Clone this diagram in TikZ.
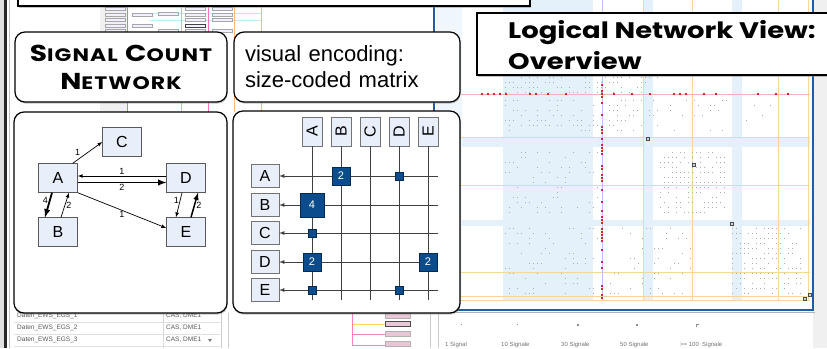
\documentclass[tikz,border=0pt]{standalone}
\usepackage{fontspec}
\usepackage{graphicx}
\setmainfont{Liberation Sans}
\newfontfamily\titlefont{Poppins}
\usetikzlibrary{positioning,shadows}

\definecolor{boxfill}{HTML}{E8EEFA}
\definecolor{cellfill}{HTML}{0B4C8C}
\definecolor{celldraw}{HTML}{05294F}
\definecolor{selblue}{HTML}{1F5DA8}
\definecolor{bandblue}{HTML}{E4F0FA}
\definecolor{gridorange}{HTML}{F6D69A}
\definecolor{gridred}{HTML}{D9252E}
\definecolor{dotgray}{HTML}{A3AEB9}
\definecolor{pinkbox}{HTML}{E9C6D6}

\newcommand{\fsize}[1]{\fontsize{#1}{#1}\selectfont}
\newcommand{\smallcapword}[2]{{\fsize{23}#1}{\fsize{18}#2}}
\newcommand{\widetitle}[1]{\scalebox{1.22}[1]{#1}}

\begin{document}
\begin{tikzpicture}[x=1pt,y=-1pt,>=latex,
  panel/.style={draw,line width=1.2pt,fill=white,rounded corners=10pt,
    drop shadow={shadow xshift=0.6pt,shadow yshift=-1.6pt,opacity=0.45}},
  flatbox/.style={draw,line width=1.2pt,fill=white,
    drop shadow={shadow xshift=1pt,shadow yshift=-1.6pt,opacity=0.45}},
  gnode/.style={draw=black!65,fill=boxfill,minimum width=39pt,minimum height=29pt,inner sep=0pt,font=\fsize{16}},
  elabel/.style={font=\fsize{9},inner sep=1pt},
  head/.style={draw=black!55,fill=boxfill,inner sep=0pt,font=\fsize{16}},
  cell/.style={draw=celldraw,fill=cellfill,text=white,inner sep=0pt,font=\fsize{11}},
  fine/.style={font=\fsize{6.5},text=black!65,inner sep=0pt,anchor=west}]
\clip (0,0) rectangle (827,348);

% screenshot in the background
\fill[white] (0,0) rectangle (827,348);
\fill[black!12] (0,0) rectangle (4,348);
\fill[black!85] (4,0) rectangle (7,348);
\draw[black!25] (9.5,0) -- (9.5,348);

% network editor strip
\fill[black!6] (100,0) rectangle (128,112);
\draw[cyan!25] (150,13) -- (261,13);
\draw[cyan!25] (150,20) -- (261,20);
\draw[blue!45] (127,0) -- (127,112);
\draw[green!60] (181,0) -- (181,112);
\draw[magenta!55] (208,0) -- (208,112);
\draw[orange!55] (234,0) -- (234,112);
\draw[cyan!45] (261,0) -- (261,112);
\foreach \xx/\yy in {105/7,105/13,105/18,105/24,105/29,132/13,132/24,158/12,158/29,
  185/7,185/13,185/18,185/29,212/7,212/13,212/18,212/29}
  \draw[black!35,fill=blue!6,line width=0.4pt] (\xx,\yy) rectangle +(20,3.5);
\draw[black!75,fill=blue!6,line width=0.6pt] (185,24) rectangle +(20,3.5);

% list in the lower left
\foreach \yy in {322,334,346} \draw[black!12] (14,\yy) -- (220,\yy);
\draw[black!15] (163,313) -- (163,348);
\foreach \i/\yy in {1/316,2/328,3/340}
{
  \node[fine] (list\i) at (17,\yy) {Daten\_EWS\_EGS\_\i};
  \node[fine] (cas\i) at (166,\yy) {CAS, DME1};
}
\fill[black!50] (208,339) -- (212,339) -- (210,342) -- cycle;
\draw[black!20] (221,313) -- (221,348);
\draw[black!20] (228,313) -- (228,348);

% pink nodes in the lower middle
\draw[magenta!50] (352,313) -- (352,345) -- (385,345);
\draw[magenta!50] (352,334) -- (385,334);
\draw[yellow!60!orange!60] (353,324) -- (385,324);
\foreach \yy in {313,331,341}
  \draw[black!30,fill=pinkbox] (385,\yy) rectangle +(25,5);
\draw[black!70,fill=pinkbox] (385,321) rectangle +(25,5);
\draw[black!20] (430,310) -- (430,348);
\draw[black!20] (438,310) -- (438,348);

% matrix overview panel
\fill[black!6] (813,0) rectangle (827,348);
\fill[bandblue] (503,0) rectangle (593,300);
\fill[bandblue] (643,0) rectangle (653,300);
\fill[bandblue] (732,0) rectangle (742,300);
\fill[bandblue] (436,137) rectangle (810,147);
\fill[bandblue] (436,220) rectangle (810,226);
\fill[bandblue!60] (436,0) rectangle (462,300);
\foreach \yy in {137,185,272,296,300} \draw[gridorange] (436,\yy) -- (810,\yy);
\foreach \xx in {643,692,778,808} \draw[gridorange] (\xx,0) -- (\xx,300);
\draw[gridred!35] (436,94) -- (810,94);
\draw[blue!25] (602,0) -- (602,300);

\pgfmathsetseed{11}
\foreach \xa/\xb/\ya/\yb/\prob in {505/660/77/92/35,505/660/100/130/30,670/800/100/130/6,
  505/600/152/215/20,660/725/152/215/55,732/802/228/295/50,505/600/228/295/22,610/690/228/295/15}
{
  \pgfmathtruncatemacro\xc{\xa+4}
  \pgfmathtruncatemacro\yc{\ya+5}
  \foreach \yy in {\ya,\yc,...,\yb}
    \foreach \xx in {\xa,\xc,...,\xb}
    {
      \pgfmathtruncatemacro\keep{100*rnd}
      \ifnum\keep<\prob \fill[dotgray] (\xx,\yy) rectangle +(1.3,1.3); \fi
    }
}
\foreach \xx in {463,469,...,806}
{
  \pgfmathtruncatemacro\keep{100*rnd}
  \ifnum\keep<40 \fill[gridred] (\xx,93) rectangle +(2,2); \fi
}
\foreach \yy in {78,81,...,298}
{
  \pgfmathtruncatemacro\keep{100*rnd}
  \ifnum\keep<55 \fill[gridred] (601,\yy) rectangle +(2,2); \fi
}
\foreach \xx/\yy in {646/137,692/163,730/222,803/297,808/293}
  \draw[black!70,fill=dotgray!50,line width=0.5pt] (\xx,\yy) rectangle +(3,3);
\draw[black!30,line width=1.5pt] (438,312.5) -- (815,312.5);
\draw[selblue,line width=2.5pt] (434,-5) rectangle (813,310);

% legend
\foreach \i/\xx/\sz/\txt in {1/461/0.8/1 Signal,2/517/1.2/10 Signale,3/577/1.6/30 Signale,
  4/636/2.2/50 Signale,5/696/3/{>= 100\ \ Signale}}
{
  \fill[black!45] (\xx,324) rectangle +(\sz,\sz);
  \node[fine,font=\fsize{6},text=black!55] (leg\i) at (\xx-16,345) {\txt};
}
\fill[white] (696.5,324.5) rectangle +(2,2);

% overlays
\draw[flatbox] (18,-5) rectangle (530,6);
\draw[flatbox] (477,13) rectangle (835,75);
\node[anchor=west,align=left,inner sep=0pt,font=\titlefont\bfseries\fontsize{22.5}{31}\selectfont] (lnvtitle)
  at (508,45) {\widetitle{Logical Network View:}\\\widetitle{Overview}};

\node[panel,minimum width=212pt,minimum height=70pt,align=center,inner sep=0pt,
  font=\titlefont\bfseries\addfontfeatures{LetterSpace=5}\fontsize{23}{28}\selectfont] (sigtitle) at (121,67)
  {\widetitle{\smallcapword{S}{IGNAL} \smallcapword{C}{OUNT}}\\\widetitle{\smallcapword{N}{ETWORK}}};
\node[panel,minimum width=226pt,minimum height=70pt,text width=204pt,align=left,inner sep=0pt,
  font=\fontsize{22}{26}\selectfont] (enctitle) at (347,67) {visual encoding:\\size-coded matrix};

\draw[panel] (14,112) rectangle (227,313);
\draw[panel] (233,111) rectangle (460,313);

% node-link diagram
\node[gnode] (C) at (122,142) {C};
\node[gnode] (A) at (58,178) {A};
\node[gnode] (D) at (186,178) {D};
\node[gnode] (B) at (58,232) {B};
\node[gnode] (E) at (186,232) {E};

\draw[->,line width=0.7pt] ([xshift=-5pt]A.north east) -- node[elabel,pos=0.3,above left]{1} (C.west);
\draw[->,line width=0.7pt] ([yshift=2pt]D.west) -- node[elabel,above]{1} ([yshift=2pt]A.east);
\draw[->,line width=1.8pt] ([yshift=-4.5pt]A.east) -- node[elabel,below]{2} ([yshift=-4.5pt]D.west);
\draw[->,line width=0.7pt] (A.south east) -- node[elabel,below]{1} ([yshift=4pt]E.west);
\draw[->,line width=1.8pt] ([xshift=-6pt]A.south) -- node[elabel,pos=0.3,left]{4} ([xshift=-13pt]B.north);
\draw[->,line width=0.7pt] ([xshift=3pt]B.north) -- node[elabel,right]{2} ([xshift=11pt]A.south);
\draw[->,line width=0.7pt] ([xshift=-4pt]D.south) -- node[elabel,pos=0.3,left]{1} ([xshift=-10pt]E.north);
\draw[->,line width=1.5pt] ([xshift=5pt]E.north) -- node[elabel,right]{2} ([xshift=12pt]D.south);

% matrix
\foreach \c/\xx in {A/312,B/341,C/370,D/399,E/428}
  \node[head,minimum width=20pt,minimum height=29pt] (col\c) at (\xx,131.5) {\rotatebox{90}{\c}};
\foreach \r/\yy in {A/176,B/205,C/233,D/262,E/290}
  \node[head,minimum width=28pt,minimum height=23pt] (row\r) at (265,\yy) {\r};
\coordinate (rightend) at (438,0);
\coordinate (lowend) at (0,300);
\foreach \r in {A,B,C,D,E}
  \draw[black!75,line width=0.8pt,<-] (row\r.east) -- (row\r.east -| rightend);
\foreach \c in {A,B,C,D,E}
  \draw[black!75,line width=0.8pt] (col\c.south) -- (col\c.south |- lowend);
\foreach \c/\r/\n/\sz in {B/A/2/18pt,D/A//8pt,A/B/4/24pt,A/C//8pt,A/D/2/18pt,E/D/2/18pt,A/E//8pt,D/E//8pt}
  \node[cell,minimum size=\sz] (cell\c\r) at (col\c |- row\r) {\n};
\end{tikzpicture}
\end{document}
